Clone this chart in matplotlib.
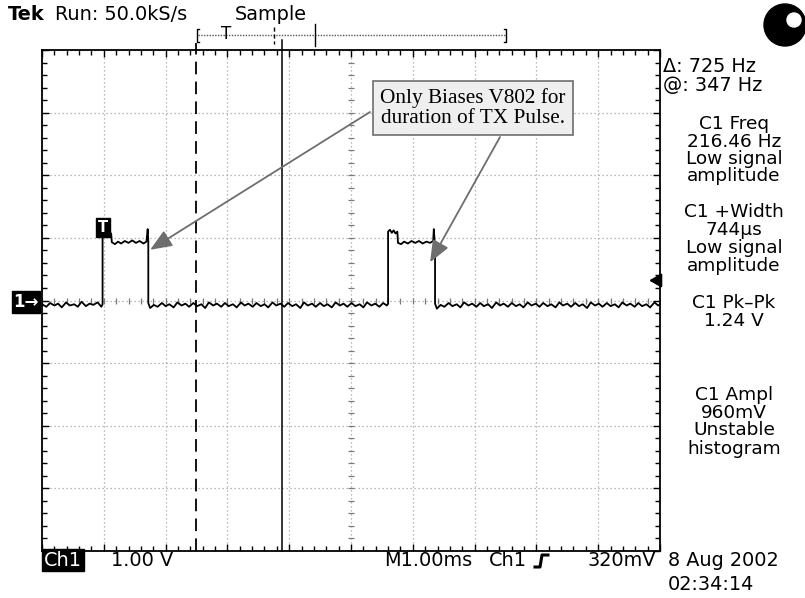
import matplotlib
matplotlib.use("Agg")
import matplotlib.pyplot as plt
from matplotlib.patches import Circle
import numpy as np

# ---------------- data (time in ms, volts; 1 ms/div, 1 V/div) ----------------
x_range = [-5.0, 5.0]
y_range = [-4.0, 4.0]

base_a = [(-5.00,-0.06),(-4.93,-0.10),(-4.87,-0.04),(-4.80,-0.08),(-4.74,-0.05),(-4.68,-0.11),
          (-4.61,-0.03),(-4.55,-0.08),(-4.48,-0.06),(-4.42,-0.10),(-4.36,-0.02),(-4.29,-0.09),
          (-4.23,-0.05),(-4.17,-0.07),(-4.10,-0.03),(-4.04,-0.10),(-4.02,-0.06)]
pulse_1 = [(-4.02,1.10),(-3.99,1.12),(-3.95,1.08),(-3.91,1.11),(-3.88,1.06),(-3.87,0.93),
           (-3.82,0.90),(-3.77,0.94),(-3.72,0.91),(-3.66,0.95),(-3.60,0.92),(-3.54,0.96),
           (-3.48,0.92),(-3.42,0.95),(-3.36,0.91),(-3.31,0.94),(-3.29,1.14),(-3.28,0.95),(-3.28,-0.04)]
base_b = [(-3.25,-0.12),(-3.19,-0.07),(-3.13,-0.10),(-3.06,-0.04),(-3.00,-0.09),(-2.94,-0.06),
          (-2.87,-0.11),(-2.81,-0.03),(-2.74,-0.08),(-2.68,-0.05),(-2.62,-0.10),(-2.55,-0.04),
          (-2.49,-0.09),(-2.42,-0.06),(-2.36,-0.12),(-2.30,-0.03),(-2.23,-0.08),(-2.17,-0.05),
          (-2.10,-0.10),(-2.04,-0.04),(-1.98,-0.09),(-1.91,-0.06),(-1.85,-0.11),(-1.78,-0.03),
          (-1.72,-0.08),(-1.66,-0.05),(-1.59,-0.10),(-1.53,-0.04),(-1.46,-0.09),(-1.40,-0.06),
          (-1.34,-0.11),(-1.27,-0.03),(-1.21,-0.08),(-1.14,-0.05),(-1.08,-0.10),(-1.02,-0.04),
          (-0.95,-0.09),(-0.89,-0.06),(-0.82,-0.12),(-0.76,-0.03),(-0.70,-0.08),(-0.63,-0.05),
          (-0.57,-0.10),(-0.50,-0.04),(-0.44,-0.09),(-0.38,-0.06),(-0.31,-0.11),(-0.25,-0.03),
          (-0.18,-0.08),(-0.12,-0.05),(-0.06,-0.10),(0.01,-0.04),(0.07,-0.09),(0.14,-0.06),
          (0.20,-0.11),(0.26,-0.03),(0.33,-0.08),(0.39,-0.05),(0.46,-0.10),(0.52,-0.04),
          (0.58,-0.08),(0.60,-0.05)]
pulse_2 = [(0.60,1.10),(0.63,1.13),(0.66,1.08),(0.69,1.12),(0.72,1.07),(0.75,1.10),(0.76,0.92),
           (0.81,0.90),(0.86,0.94),(0.92,0.91),(0.98,0.95),(1.04,0.92),(1.10,0.95),(1.16,0.91),
           (1.22,0.94),(1.28,0.92),(1.33,0.95),(1.34,1.14),(1.36,0.85),(1.36,-0.05)]
base_c = [(1.39,-0.13),(1.45,-0.07),(1.51,-0.10),(1.58,-0.04),(1.64,-0.09),(1.71,-0.06),
          (1.77,-0.11),(1.83,-0.03),(1.90,-0.08),(1.96,-0.05),(2.03,-0.10),(2.09,-0.04),
          (2.15,-0.09),(2.22,-0.06),(2.28,-0.12),(2.35,-0.03),(2.41,-0.08),(2.47,-0.05),
          (2.54,-0.10),(2.60,-0.04),(2.67,-0.09),(2.73,-0.06),(2.79,-0.11),(2.86,-0.03),
          (2.92,-0.08),(2.99,-0.05),(3.05,-0.10),(3.11,-0.04),(3.18,-0.09),(3.24,-0.06),
          (3.31,-0.11),(3.37,-0.03),(3.43,-0.08),(3.50,-0.05),(3.56,-0.10),(3.63,-0.04),
          (3.69,-0.09),(3.75,-0.06),(3.82,-0.12),(3.88,-0.03),(3.95,-0.08),(4.01,-0.05),
          (4.07,-0.10),(4.14,-0.04),(4.20,-0.09),(4.27,-0.06),(4.33,-0.11),(4.39,-0.03),
          (4.46,-0.08),(4.52,-0.05),(4.59,-0.10),(4.65,-0.04),(4.71,-0.09),(4.78,-0.06),
          (4.84,-0.11),(4.91,-0.03),(4.97,-0.08),(5.00,-0.06)]

cursor_dashed = -2.50
cursor_solid = -1.12
trigger_t, trigger_marker_v = -4.01, 1.17
trigger_level = 0.32
arrow_tips = [(-3.25, 0.81), (1.28, 0.61)]

readout_left = ["\u0394: 725 Hz", "@: 347 Hz"]
readout_rows = [124, 142, 159, 176, 212, 230, 248, 266, 303, 321, 395, 413, 430, 449]
readout_texts = ["C1 Freq", "216.46 Hz", "Low signal", "amplitude",
                 "C1 +Width", "744\u00b5s", "Low signal", "amplitude",
                 "C1 Pk\u2013Pk", "1.24 V",
                 "C1 Ampl", "960mV", "Unstable", "histogram"]
note_text = "Only Biases V802 for\nduration of TX Pulse."

# ---------------- figure ----------------
W, H = 805, 598
fig = plt.figure(figsize=(W/100, H/100), dpi=100)
fig.patch.set_facecolor("white")
SANS = "DejaVu Sans"
FS = 13.9
FS_R = 13.3

L, R, T, B = 42, 660, 50, 551
ax = fig.add_axes([L/W, 1-B/H, (R-L)/W, (B-T)/H])
ax.set_xlim(*x_range)
ax.set_ylim(*y_range)
for s in ax.spines.values():
    s.set_color("black"); s.set_linewidth(1.3)

xmaj = np.arange(x_range[0], x_range[1]+0.01, 1.0)
ymaj = np.arange(y_range[0], y_range[1]+0.01, 1.0)
xmin = np.arange(x_range[0], x_range[1]+0.01, 0.2)
ymin = np.arange(y_range[0], y_range[1]+0.01, 0.2)
ax.set_xticks(xmaj); ax.set_yticks(ymaj)
ax.set_xticks(xmin, minor=True); ax.set_yticks(ymin, minor=True)
ax.tick_params(which="both", direction="in", top=True, right=True,
               labelbottom=False, labelleft=False, color="black", width=1.0)
ax.tick_params(which="major", length=5)
ax.tick_params(which="minor", length=3.5)
ax.grid(True, which="major", color="#a4a4a4", linestyle=(0, (1, 2.2)), linewidth=0.9)
ax.set_axisbelow(True)

# centre cross with minor ticks
ax.plot(xmin, np.zeros_like(xmin), ls="none", marker="|", ms=5, mew=0.9, color="#7a7a7a")
ax.plot(np.zeros_like(ymin), ymin, ls="none", marker="_", ms=5, mew=0.9, color="#7a7a7a")

# waveform
wave = base_a + pulse_1 + base_b + pulse_2 + base_c
wt = [p[0] for p in wave]
wv = [p[1] for p in wave]
ax.plot(wt, wv, color="black", lw=1.3, zorder=5)

# cursors
ax.plot([cursor_dashed]*2, [y_range[0], y_range[1]+0.11], color="black", lw=1.3,
        ls=(0, (7, 4)), clip_on=False, zorder=4)
ax.plot([cursor_solid]*2, [y_range[0], y_range[1]+0.16], color="black", lw=1.1,
        clip_on=False, zorder=4)

# trigger marker
ax.text(trigger_t, trigger_marker_v, "T", color="white", fontsize=10.5, fontweight="bold",
        family=SANS, ha="center", va="center", zorder=6,
        bbox=dict(boxstyle="square,pad=0.15", fc="black", ec="black"))
# trigger level arrow on right edge
ax.annotate("", xy=(4.78, trigger_level), xytext=(5.0, trigger_level),
            arrowprops=dict(arrowstyle="-|>,head_length=0.6,head_width=0.35",
                            color="black", lw=1.5, mutation_scale=12), annotation_clip=False)

# annotation box + arrows
note_x, note_y = 473, 598-108
fig.text(note_x/W, note_y/H, note_text, family="Liberation Serif", fontsize=15.3,
         ha="center", va="center", linespacing=1.05, zorder=10,
         bbox=dict(boxstyle="square,pad=0.35", fc="#efefef", ec="#6e6e6e", lw=1.2))
starts = [(370, 598-112), (500, 598-137)]
for (tx, tv), (sx, sy) in zip(arrow_tips, starts):
    ax.annotate("", xy=(tx, tv), xytext=(sx, sy), textcoords="figure pixels",
                arrowprops=dict(arrowstyle="-|>,head_length=1.1,head_width=0.45",
                                color="#6e6e6e", lw=1.3, mutation_scale=12,
                                shrinkA=0, shrinkB=0), zorder=8)

# ---------------- decorations in pixel space ----------------
deco = fig.add_axes([0, 0, 1, 1], zorder=-1)
deco.set_xlim(0, W); deco.set_ylim(H, 0); deco.axis("off")

# top status
fig.text(8/W, 1-14/H, "Tek", family=SANS, fontsize=FS, fontweight="bold", va="center")
fig.text(55/W, 1-14/H, "Run: 50.0kS/s", family=SANS, fontsize=FS, va="center")
fig.text(235/W, 1-14/H, "Sample", family=SANS, fontsize=FS, va="center")

# record view bracket
deco.plot([198, 505], [35, 35], color="#555", lw=1.0, ls=(0, (1, 1)))
deco.plot([199, 197, 197, 199], [29, 29, 42, 42], color="black", lw=1.0)
deco.plot([504, 506, 506, 504], [29, 29, 42, 42], color="black", lw=1.0)
deco.text(226, 34, "T", family=SANS, fontsize=12, ha="center", va="center")
deco.plot([274, 274], [27, 44], color="black", lw=1.0, ls=(0, (3, 2)))
deco.plot([315, 315], [24, 46], color="black", lw=1.0)

# status circle
deco.add_patch(Circle((785, 25), 21, color="black"))
deco.add_patch(Circle((794, 20), 7, color="white"))

# ground marker
fig.text(26/W, 1-302/H, "1\u2192", family=SANS, fontsize=12, fontweight="bold", color="white",
         ha="center", va="center",
         bbox=dict(boxstyle="square,pad=0.1", fc="black", ec="black"))

# right readouts
fig.text(663/W, 1-67/H, readout_left[0], family=SANS, fontsize=FS, va="center")
fig.text(663/W, 1-86/H, readout_left[1], family=SANS, fontsize=FS, va="center")
for yy, s in zip(readout_rows, readout_texts):
    fig.text(734/W, 1-yy/H, s, family=SANS, fontsize=FS_R, ha="center", va="center")

# bottom status
fig.text(63/W, 1-560/H, "Ch1", family=SANS, fontsize=FS, color="white", ha="center", va="center",
         bbox=dict(boxstyle="square,pad=0.08", fc="black", ec="black"))
fig.text(111/W, 1-560/H, "1.00 V", family=SANS, fontsize=FS, va="center")
fig.text(384/W, 1-560/H, "M1.00ms", family=SANS, fontsize=FS, va="center")
fig.text(489/W, 1-560/H, "Ch1", family=SANS, fontsize=FS, va="center")
deco.plot([535, 540, 542, 548], [567, 567, 555, 555], color="black", lw=2.2)
fig.text(587/W, 1-560/H, "320mV", family=SANS, fontsize=FS, va="center")
fig.text(668/W, 1-561/H, "8 Aug 2002", family=SANS, fontsize=FS, va="center")
fig.text(668/W, 1-585/H, "02:34:14", family=SANS, fontsize=FS, va="center")

fig.savefig("out.png", dpi=100, facecolor="white")
